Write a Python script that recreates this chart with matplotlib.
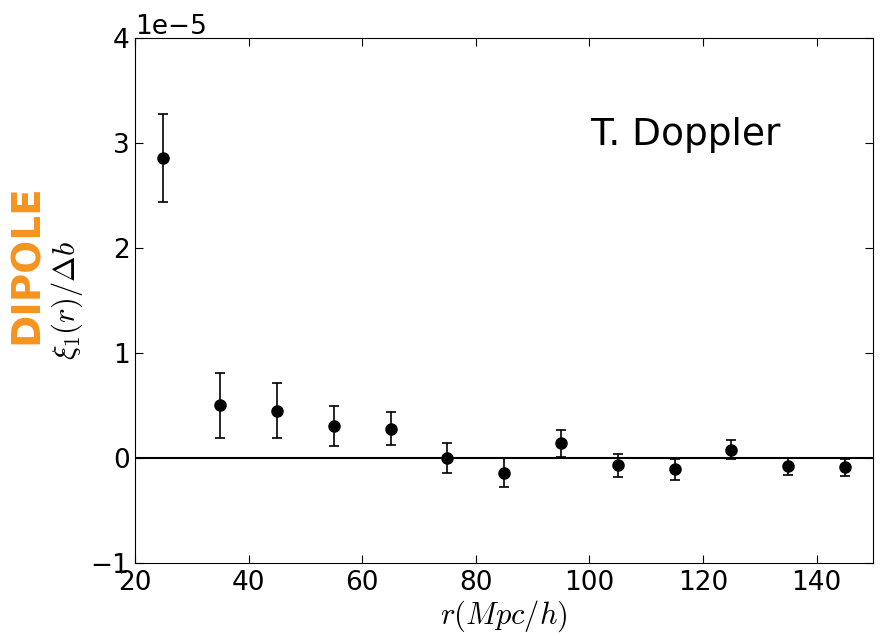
import numpy as np
import matplotlib
matplotlib.use("Agg")
import matplotlib.pyplot as plt

# separation bins r (Mpc/h)
r = [25, 35, 45, 55, 65, 75, 85, 95, 105, 115, 125, 135, 145]
# dipole xi_1(r)/Delta b, in units of 1e-5
xi1 = [2.86, 0.50, 0.45, 0.30, 0.28, 0.00, -0.14, 0.14, -0.07, -0.11, 0.08, -0.08, -0.09]
err = [0.42, 0.31, 0.26, 0.19, 0.16, 0.145, 0.14, 0.13, 0.11, 0.10, 0.09, 0.08, 0.08]

scale = 1e-5
y = np.array(xi1) * scale
yerr = np.array(err) * scale

plt.rcParams['font.size'] = 19
plt.rcParams['mathtext.fontset'] = 'cm'
plt.rcParams['xtick.direction'] = 'in'
plt.rcParams['ytick.direction'] = 'in'
plt.rcParams['xtick.top'] = True
plt.rcParams['ytick.right'] = True
plt.rcParams['xtick.major.size'] = 6
plt.rcParams['ytick.major.size'] = 6
plt.rcParams['xtick.major.pad'] = 5
plt.rcParams['ytick.major.pad'] = 4

fig = plt.figure(figsize=(8.83, 6.36), dpi=100)
ax = fig.add_axes([0.153, 0.115, 0.836, 0.825])

ax.axhline(0, color='black', lw=1.5)
ax.errorbar(r, y, yerr=yerr, fmt='o', color='black', ms=8, capsize=3.5,
            elinewidth=1.2, capthick=1.2)

ax.set_xlim(20, 150)
ax.set_ylim(-1e-5, 4e-5)
ax.set_xticks([20, 40, 60, 80, 100, 120, 140])
ax.set_yticks(np.arange(-1, 5) * scale)
ax.ticklabel_format(axis='y', style='sci', scilimits=(0, 0), useMathText=False)
ax.yaxis.get_offset_text().set_fontsize(19)

ax.set_xlabel(r'$r(Mpc/h)$', fontsize=22, labelpad=2)
ax.set_ylabel(r'$\xi_1(r)/\Delta b$', fontsize=22, labelpad=4)

ax.text(0.617, 0.796, 'T. Doppler', transform=ax.transAxes, fontsize=27)

fig.text(0.03, 0.585, 'DIPOLE', rotation=90, color='#f7931e', fontsize=28,
         fontweight='bold', ha='center', va='center')

fig.savefig('out.png', dpi=100)
